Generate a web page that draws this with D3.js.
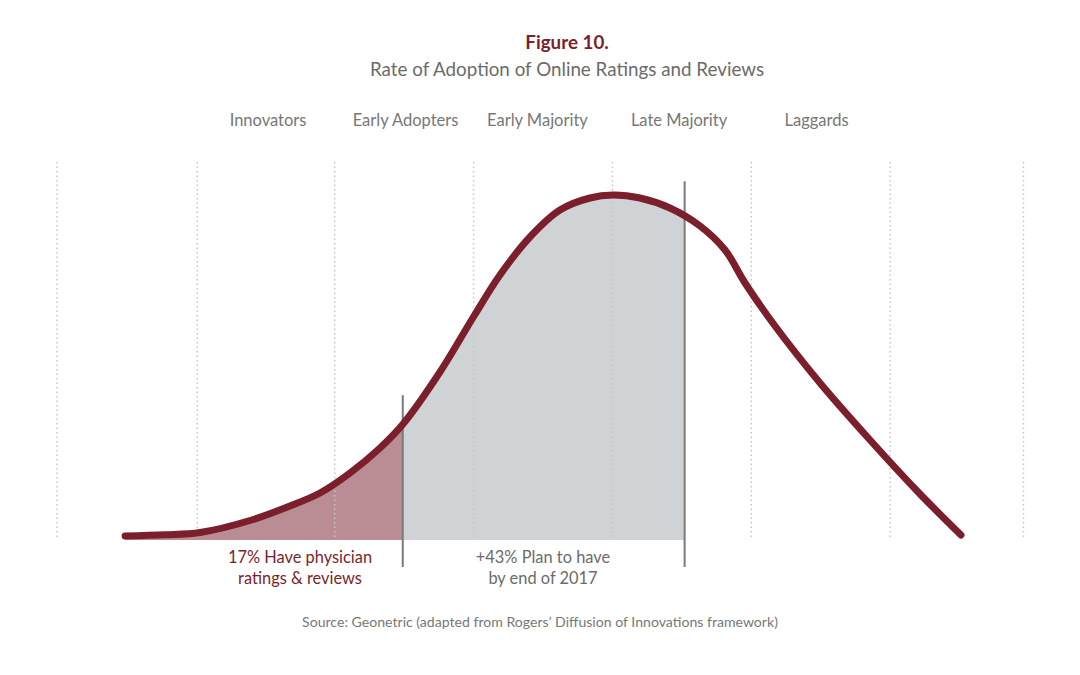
<!DOCTYPE html>
<html>
<head>
<meta charset="utf-8">
<script src="https://cdn.jsdelivr.net/npm/d3@7"></script>
<style>
  body { margin: 0; background: #fff; }
  svg { display: block; font-family: Lato, "Open Sans", sans-serif; }
</style>
</head>
<body>
<div id="chart"></div>
<script>
// adoption stages along the top
const phases = ["Innovators", "Early Adopters", "Early Majority", "Late Majority", "Laggards"];
const phaseAt = [1.52, 2.51, 3.46, 4.48, 5.47];

// dotted vertical guides
const gridLines = [0, 1.01, 2, 3, 4, 5, 6, 6.96];

// adoption curve (x in stage units, y relative to peak = 100)
const curveX = [0.49, 0.778, 1.03, 1.39, 1.678, 1.894, 2.11, 2.326, 2.492, 2.758, 3.003, 3.19, 3.406, 3.622, 3.838,
  4.004, 4.198, 4.414, 4.631, 4.811, 4.955, 5.171, 5.495, 5.855, 6.215, 6.51];
const curveY = [1.16, 1.51, 2.17, 5.65, 9.86, 13.62, 19.42, 26.67, 33.62, 48.7, 64.93, 76.81, 87.83, 95.65, 99.13,
  100, 99.13, 96.23, 91.01, 84.06, 74.49, 62.03, 45.51, 28.99, 13.33, 1.45];

// where the two shaded shares end, and how tall their marker lines run
const splitX = [2.49, 4.52];
const splitTop = [42, 104];

const notes = [
  { x: 1.75, lines: ["17% Have physician", "ratings & reviews"], color: "#7a1f2b" },
  { x: 3.5, lines: ["+43% Plan to have", "by end of 2017"], color: "#6b6b6b" }
];

const width = 1080, height = 675;
const red = "#7a1f2b";

const svg = d3.select("#chart")
  .append("svg")
  .attr("width", width)
  .attr("height", height);

const x = d3.scaleLinear().domain([0, 7]).range([57, 1029]);
const y = d3.scaleLinear().domain([0, 100]).range([540, 195]);

const pts = curveX.map((d, i) => ({ x: d, y: curveY[i] }));
const smooth = d3.curveCatmullRom.alpha(0.5);

// titles
svg.append("text")
  .attr("x", 567).attr("y", 49)
  .attr("text-anchor", "middle")
  .attr("fill", red)
  .style("font-size", "18.8px")
  .style("font-weight", "bold")
  .text("Figure 10.");

svg.append("text")
  .attr("x", 567).attr("y", 76)
  .attr("text-anchor", "middle")
  .attr("fill", "#6b6b6b")
  .style("font-size", "18.8px")
  .text("Rate of Adoption of Online Ratings and Reviews");

svg.selectAll(".phase")
  .data(phases)
  .enter()
  .append("text")
  .attr("class", "phase")
  .attr("x", (d, i) => x(phaseAt[i]))
  .attr("y", 126)
  .attr("text-anchor", "middle")
  .attr("fill", "#777")
  .style("font-size", "16.5px")
  .text(d => d);

// shaded areas under the curve
const area = d3.area()
  .x(d => x(d.x))
  .y0(y(0))
  .y1(d => y(d.y))
  .curve(smooth);

const defs = svg.append("defs");
const bands = [
  { id: "clip-have", from: curveX[0], to: splitX[0], fill: "#b98d93" },
  { id: "clip-plan", from: splitX[0], to: splitX[1], fill: "#d0d3d6" }
];

bands.forEach(b => {
  defs.append("clipPath")
    .attr("id", b.id)
    .append("rect")
    .attr("x", x(b.from))
    .attr("y", 0)
    .attr("width", x(b.to) - x(b.from))
    .attr("height", y(0));

  svg.append("path")
    .datum(pts)
    .attr("d", area)
    .attr("fill", b.fill)
    .attr("clip-path", `url(#${b.id})`);
});

// dotted guides
svg.selectAll(".grid")
  .data(gridLines)
  .enter()
  .append("line")
  .attr("class", "grid")
  .attr("x1", d => x(d)).attr("x2", d => x(d))
  .attr("y1", 162).attr("y2", y(0))
  .attr("stroke", "#c6c6c6")
  .attr("stroke-width", 1.5)
  .attr("stroke-dasharray", "1.5,3");

// split markers
svg.selectAll(".split")
  .data(splitX)
  .enter()
  .append("line")
  .attr("class", "split")
  .attr("x1", d => x(d)).attr("x2", d => x(d))
  .attr("y1", (d, i) => y(splitTop[i]))
  .attr("y2", 567)
  .attr("stroke", "#7a7a7a")
  .attr("stroke-width", 2);

// the curve itself
const line = d3.line()
  .x(d => x(d.x))
  .y(d => y(d.y))
  .curve(smooth);

svg.append("path")
  .datum(pts)
  .attr("d", line)
  .attr("fill", "none")
  .attr("stroke", red)
  .attr("stroke-width", 7)
  .attr("stroke-linecap", "round")
  .attr("stroke-linejoin", "round");

// notes under the baseline
notes.forEach(n => {
  const t = svg.append("text")
    .attr("text-anchor", "middle")
    .attr("fill", n.color)
    .style("font-size", "16.4px");
  n.lines.forEach((l, i) => {
    t.append("tspan")
      .attr("x", x(n.x))
      .attr("y", 563 + i * 21)
      .text(l);
  });
});

svg.append("text")
  .attr("x", 540).attr("y", 627)
  .attr("text-anchor", "middle")
  .attr("fill", "#777")
  .style("font-size", "14.1px")
  .text("Source: Geonetric (adapted from Rogers\u2019 Diffusion of Innovations framework)");
</script>
</body>
</html>
